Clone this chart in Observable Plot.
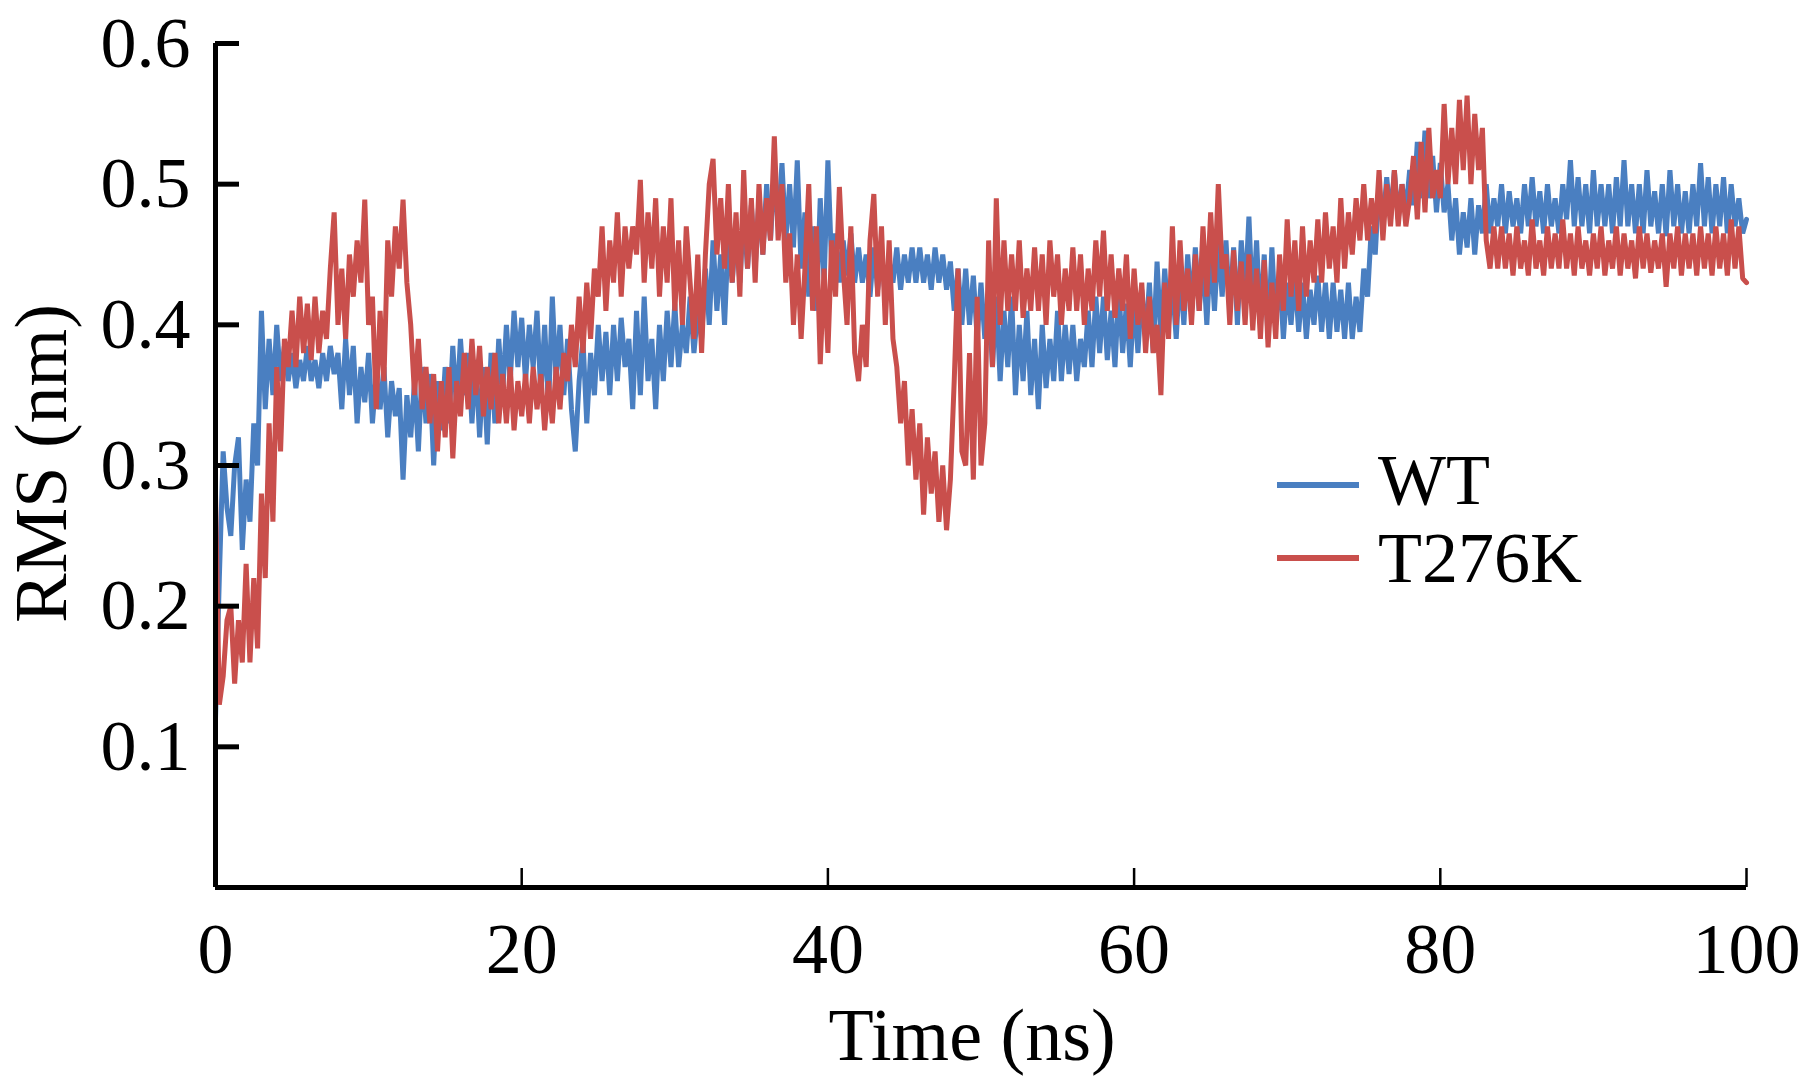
<!DOCTYPE html>
<html>
<head>
<meta charset="utf-8">
<script src="https://cdn.jsdelivr.net/npm/d3@7"></script>
<script src="https://cdn.jsdelivr.net/npm/@observablehq/plot@0.6"></script>
<style>
  html, body { margin: 0; padding: 0; background: #fff; overflow: hidden; }
  #chart svg { display: block; }
</style>
</head>
<body>
<div id="chart"></div>
<script>
// ---- data (RMS in nm, sampled every 0.25 ns from 0 to 100 ns) ----
const timeStep = 0.25;
const seriesNames = ["WT", "T276K"];
const seriesColors = ["#4a7fc1", "#c94f4c"];

const wt = [
  0.12, 0.22, 0.31, 0.27,   0.25, 0.30, 0.32, 0.24,   0.29, 0.26, 0.33, 0.30,
  0.41, 0.34, 0.39, 0.35,   0.40, 0.36, 0.385, 0.36,  0.38, 0.355, 0.375, 0.36,
  0.385, 0.36, 0.375, 0.355, 0.38, 0.36, 0.385, 0.365, 0.38, 0.34, 0.39, 0.35,
  0.385, 0.33, 0.37, 0.345, 0.38, 0.33, 0.365, 0.34,  0.37, 0.32, 0.36, 0.335,
  0.355, 0.29, 0.35, 0.32,  0.36, 0.31, 0.37, 0.33,   0.365, 0.30, 0.36, 0.325,
  0.37, 0.33, 0.385, 0.34,  0.39, 0.35, 0.38, 0.33,   0.375, 0.32, 0.37, 0.315,
  0.38, 0.33, 0.39, 0.35,   0.40, 0.36, 0.41, 0.37,   0.405, 0.36, 0.40, 0.37,
  0.41, 0.35, 0.40, 0.34,   0.42, 0.36, 0.40, 0.35,   0.39, 0.34, 0.31, 0.36,
  0.39, 0.33, 0.38, 0.35,   0.40, 0.36, 0.395, 0.35,  0.40, 0.36, 0.405, 0.37,
  0.39, 0.34, 0.41, 0.35,   0.42, 0.36, 0.39, 0.34,   0.40, 0.36, 0.41, 0.37,
  0.415, 0.37, 0.40, 0.38,  0.42, 0.38, 0.41, 0.39,   0.44, 0.40, 0.46, 0.41,
  0.45, 0.40, 0.465, 0.43,  0.47, 0.43, 0.48, 0.44,   0.485, 0.44, 0.49, 0.45,
  0.50, 0.46, 0.51, 0.47,   0.515, 0.46, 0.50, 0.455, 0.517, 0.44, 0.48, 0.42,
  0.47, 0.41, 0.49, 0.43,   0.517, 0.44, 0.465, 0.43, 0.46, 0.435, 0.465, 0.43,
  0.455, 0.43, 0.45, 0.42,  0.455, 0.425, 0.45, 0.42, 0.445, 0.43, 0.455, 0.425,
  0.45, 0.43, 0.455, 0.43,  0.455, 0.43, 0.45, 0.425, 0.455, 0.43, 0.45, 0.425,
  0.445, 0.41, 0.44, 0.40,  0.44, 0.40, 0.435, 0.39,  0.43, 0.39, 0.42, 0.37,
  0.42, 0.36, 0.41, 0.37,   0.42, 0.35, 0.40, 0.36,   0.41, 0.35, 0.39, 0.34,
  0.40, 0.355, 0.39, 0.36,  0.41, 0.36, 0.40, 0.365,  0.40, 0.36, 0.39, 0.37,
  0.41, 0.37, 0.42, 0.38,   0.42, 0.375, 0.41, 0.37,  0.425, 0.38, 0.415, 0.37,
  0.42, 0.38, 0.425, 0.39,  0.43, 0.38, 0.445, 0.39,  0.44, 0.40, 0.43, 0.39,
  0.44, 0.40, 0.45, 0.41,   0.455, 0.41, 0.45, 0.40,  0.455, 0.41, 0.46, 0.42,
  0.46, 0.41, 0.455, 0.40,  0.46, 0.42, 0.477, 0.41,  0.46, 0.40, 0.45, 0.39,
  0.455, 0.40, 0.44, 0.39,  0.43, 0.40, 0.435, 0.395, 0.43, 0.39, 0.425, 0.40,
  0.435, 0.395, 0.43, 0.39, 0.43, 0.395, 0.425, 0.39, 0.43, 0.39, 0.42, 0.395,
  0.44, 0.42, 0.47, 0.45,   0.50, 0.47, 0.505, 0.475, 0.51, 0.475, 0.50, 0.48,
  0.51, 0.485, 0.53, 0.49,  0.538, 0.49, 0.52, 0.48,  0.515, 0.48, 0.50, 0.46,
  0.49, 0.45, 0.48, 0.455,  0.49, 0.45, 0.485, 0.465, 0.50, 0.465, 0.49, 0.47,
  0.50, 0.465, 0.495, 0.47, 0.49, 0.465, 0.50, 0.47,  0.505, 0.47, 0.495, 0.465,
  0.50, 0.47, 0.49, 0.465,  0.50, 0.475, 0.517, 0.47, 0.505, 0.47, 0.50, 0.465,
  0.51, 0.47, 0.50, 0.47,   0.50, 0.465, 0.505, 0.47, 0.517, 0.47, 0.50, 0.465,
  0.50, 0.465, 0.51, 0.47,  0.495, 0.465, 0.50, 0.463, 0.51, 0.47, 0.50, 0.465,
  0.495, 0.465, 0.50, 0.47, 0.515, 0.47, 0.505, 0.465, 0.50, 0.47, 0.505, 0.465,
  0.50, 0.47, 0.49, 0.465,
  0.475
];

const t276k = [
  0.28, 0.13, 0.15, 0.19,   0.20, 0.145, 0.19, 0.16,  0.23, 0.16, 0.22, 0.17,
  0.28, 0.22, 0.33, 0.26,   0.37, 0.31, 0.39, 0.37,   0.41, 0.37, 0.42, 0.38,
  0.415, 0.375, 0.42, 0.38, 0.41, 0.39, 0.44, 0.48,   0.40, 0.44, 0.39, 0.45,
  0.42, 0.46, 0.43, 0.489,  0.40, 0.42, 0.34, 0.41,   0.36, 0.46, 0.42, 0.47,
  0.44, 0.489, 0.43, 0.40,  0.35, 0.39, 0.34, 0.37,   0.33, 0.365, 0.31, 0.36,
  0.32, 0.37, 0.305, 0.36,  0.335, 0.38, 0.34, 0.39,  0.35, 0.385, 0.335, 0.37,
  0.34, 0.38, 0.33, 0.365,  0.33, 0.37, 0.325, 0.36,  0.335, 0.365, 0.33, 0.37,
  0.34, 0.365, 0.325, 0.36, 0.33, 0.37, 0.34, 0.38,   0.36, 0.40, 0.37, 0.42,
  0.38, 0.43, 0.39, 0.44,   0.42, 0.47, 0.41, 0.46,   0.43, 0.48, 0.42, 0.47,
  0.44, 0.47, 0.45, 0.503,  0.43, 0.48, 0.44, 0.49,   0.42, 0.47, 0.43, 0.49,
  0.41, 0.46, 0.40, 0.47,   0.43, 0.39, 0.45, 0.38,   0.45, 0.50, 0.518, 0.45,
  0.49, 0.44, 0.50, 0.43,   0.48, 0.42, 0.51, 0.44,   0.49, 0.43, 0.50, 0.45,
  0.49, 0.46, 0.534, 0.46,  0.50, 0.43, 0.465, 0.40,  0.45, 0.39, 0.44, 0.50,
  0.41, 0.47, 0.372, 0.44,  0.38, 0.46, 0.42, 0.498,  0.44, 0.40, 0.47, 0.38,
  0.36, 0.40, 0.37, 0.46,   0.493, 0.42, 0.47, 0.40,  0.46, 0.39, 0.37, 0.33,
  0.36, 0.30, 0.34, 0.29,   0.33, 0.265, 0.32, 0.28,  0.31, 0.26, 0.30, 0.254,
  0.29, 0.36, 0.44, 0.31,   0.30, 0.38, 0.29, 0.42,   0.30, 0.33, 0.46, 0.37,
  0.49, 0.40, 0.46, 0.41,   0.45, 0.41, 0.46, 0.405,  0.44, 0.41, 0.455, 0.41,
  0.45, 0.40, 0.46, 0.42,   0.45, 0.40, 0.44, 0.41,   0.455, 0.41, 0.45, 0.40,
  0.44, 0.41, 0.46, 0.42,   0.467, 0.41, 0.45, 0.405, 0.44, 0.41, 0.45, 0.39,
  0.44, 0.40, 0.43, 0.38,   0.42, 0.38, 0.40, 0.35,   0.43, 0.39, 0.47, 0.40,
  0.46, 0.41, 0.44, 0.40,   0.45, 0.41, 0.47, 0.42,   0.48, 0.43, 0.50, 0.44,
  0.45, 0.40, 0.453, 0.41,  0.445, 0.40, 0.45, 0.396, 0.44, 0.39, 0.446, 0.384,
  0.43, 0.39, 0.45, 0.41,   0.475, 0.42, 0.46, 0.41,  0.47, 0.42, 0.46, 0.43,
  0.475, 0.43, 0.48, 0.44,  0.47, 0.43, 0.49, 0.44,   0.48, 0.45, 0.49, 0.46,
  0.50, 0.46, 0.49, 0.465,  0.51, 0.46, 0.50, 0.47,   0.51, 0.47, 0.50, 0.47,
  0.49, 0.52, 0.475, 0.53,  0.48, 0.54, 0.49, 0.51,   0.49, 0.557, 0.50, 0.54,
  0.50, 0.56, 0.51, 0.563,  0.50, 0.55, 0.51, 0.54,   0.46, 0.44, 0.47, 0.44,
  0.47, 0.44, 0.465, 0.435, 0.47, 0.44, 0.46, 0.435,  0.475, 0.44, 0.46, 0.435,
  0.47, 0.44, 0.465, 0.44,  0.475, 0.44, 0.465, 0.435, 0.47, 0.44, 0.46, 0.435,
  0.465, 0.44, 0.47, 0.435, 0.46, 0.44, 0.47, 0.435,  0.465, 0.44, 0.46, 0.433,
  0.47, 0.44, 0.465, 0.437, 0.46, 0.44, 0.465, 0.427, 0.465, 0.44, 0.47, 0.435,
  0.465, 0.44, 0.465, 0.435, 0.47, 0.44, 0.465, 0.435, 0.47, 0.44, 0.465, 0.435,
  0.475, 0.44, 0.47, 0.433,
  0.43
];

const xTicks = [0, 20, 40, 60, 80, 100];
const yTicks = [0.1, 0.2, 0.3, 0.4, 0.5, 0.6];
const xLabel = "Time (ns)";
const yLabel = "RMS (nm)";

// ---- table for Plot ----
const rows = [];
[wt, t276k].forEach((vals, s) => {
  vals.forEach((v, i) => rows.push({series: seriesNames[s], t: i * timeStep, v}));
});

// ---- layout ----
const W = 1803, H = 1083;
const mL = 215, mR = 57, mT = 43, mB = 196;
const frameW = W - mL - mR, frameH = H - mT - mB;
const font = "'Liberation Serif', 'Times New Roman', Times, serif";

const chart = Plot.plot({
  width: W, height: H,
  marginLeft: mL, marginRight: mR, marginTop: mT, marginBottom: mB,
  x: {domain: [0, 100], label: null},
  y: {domain: [0, 0.6], label: null},
  style: {fontFamily: font, color: "black", background: "white", overflow: "visible"},
  marks: [
    Plot.line(rows.filter(d => d.series === "WT"), {x: "t", y: "v", stroke: seriesColors[0], strokeWidth: 5, strokeLinejoin: "miter"}),
    Plot.line(rows.filter(d => d.series === "T276K"), {x: "t", y: "v", stroke: seriesColors[1], strokeWidth: 5, strokeLinejoin: "miter"}),
    Plot.ruleX([0], {stroke: "black", strokeWidth: 5}),
    Plot.ruleY([0], {stroke: "black", strokeWidth: 5}),
    Plot.tickY(yTicks, {y: d => d, stroke: "black", strokeWidth: 5, insetRight: frameW - 24}),
    Plot.tickX(xTicks.filter(d => d > 0), {x: d => d, stroke: "black", strokeWidth: 2.5, insetTop: frameH - 19}),
    Plot.axisY(yTicks, {tickSize: 0, tickPadding: 25, fontSize: 72, tickFormat: d => d.toFixed(1), label: null}),
    Plot.axisX(xTicks, {tickSize: 0, tickPadding: 34, fontSize: 72, label: null}),
    Plot.text([xLabel], {text: d => d, frameAnchor: "bottom", lineAnchor: "middle", textAnchor: "middle", dx: -9, dy: 149, fontSize: 74}),
    Plot.text([yLabel], {text: d => d, frameAnchor: "left", lineAnchor: "middle", textAnchor: "middle", rotate: -90, dx: -173, dy: -2, fontSize: 74})
  ]
});

// ---- legend inside the plot area ----
const svg = d3.select(chart);
const legendX = 1277, lineLen = 82;
const legendLineY = [485, 558];
const legendTextY = [504, 582];
const legend = svg.append("g").attr("class", "legend");
seriesNames.forEach((name, i) => {
  legend.append("line")
    .attr("x1", legendX).attr("x2", legendX + lineLen)
    .attr("y1", legendLineY[i]).attr("y2", legendLineY[i])
    .attr("stroke", seriesColors[i]).attr("stroke-width", 6);
  legend.append("text")
    .attr("x", legendX + 101).attr("y", legendTextY[i])
    .attr("text-anchor", "start")
    .attr("font-family", font).attr("font-size", 72)
    .attr("fill", "black")
    .text(name);
});

document.getElementById("chart").appendChild(chart);
</script>
</body>
</html>
